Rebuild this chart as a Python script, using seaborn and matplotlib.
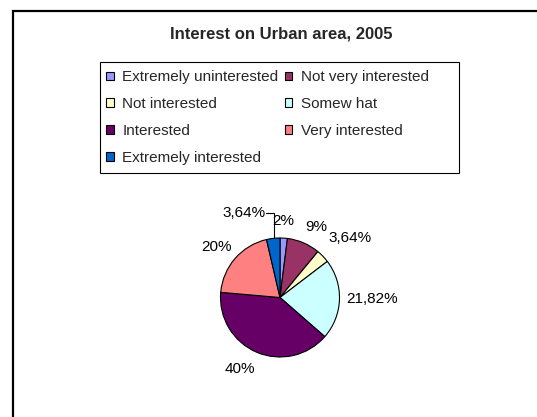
import numpy as np
import matplotlib
matplotlib.use("Agg")
import matplotlib.pyplot as plt
from matplotlib.patches import Patch, Rectangle
import seaborn as sns

# Survey shares (%), clockwise from twelve o'clock
categories = ["Extremely uninterested", "Not very interested", "Not interested",
              "Somew hat", "Interested", "Very interested", "Extremely interested"]
shares = [2, 9, 3.64, 21.82, 40, 20, 3.64]
colors = ["#9999FF", "#993366", "#FFFFCC", "#CCFFFF", "#660066", "#FF8080", "#0066CC"]
title = "Interest on Urban area, 2005"

# label anchor points, in units of the pie radius
label_xy = [(0.06, 1.28), (0.61, 1.18), (1.18, 1.00), (1.55, -0.03),
            (-0.67, -1.20), (-1.06, 0.85), (-0.61, 1.42)]

W, H = 537, 417
sns.set_theme(style="white")
plt.rcParams["font.family"] = ["Liberation Sans", "DejaVu Sans"]
palette = sns.color_palette(colors)

fig = plt.figure(figsize=(W / 100, H / 100), dpi=100)
fig.patch.set_facecolor("white")

def fx(px):
    return px / W

def fy(py):
    return 1 - py / H

# outer chart-area border (continues past the right and bottom edges)
fig.add_artist(Rectangle((fx(13), fy(430)), fx(540), (430 - 11) / H,
                         transform=fig.transFigure, fill=False,
                         ec="black", lw=1.6))

fig.text(fx(281), fy(34), title, ha="center", va="center",
         fontsize=12, fontweight="bold")

# pie axes: centre (280, 297.5) px, radius 59.5 px, limits +-1.5
R = 59.5
half = 1.5 * R
ax = fig.add_axes([fx(280 - half), (H - 297.5 - half) / H, 2 * half / W, 2 * half / H])
wedges, _ = ax.pie(shares, colors=palette, startangle=90, counterclock=False,
                   radius=1.0,
                   wedgeprops=dict(edgecolor="black", linewidth=0.8))
ax.set_xlim(-1.5, 1.5)
ax.set_ylim(-1.5, 1.5)
ax.set_aspect("equal")
ax.axis("off")

labels = [(f"{v:g}".replace(".", ",") + "%") for v in shares]
for lab, (x, y) in zip(labels, label_xy):
    ax.text(x, y, lab, ha="center", va="center", fontsize=11, color="black")

# leader line for the small last slice
w = wedges[-1]
ang = np.deg2rad(w.theta1 + 0.42 * (w.theta2 - w.theta1))
ex, ey = np.cos(ang), np.sin(ang)
lx, ly = label_xy[-1]
ax.plot([lx + 0.37, ex, ex], [ly, ly, ey], color="black", lw=0.8,
        solid_joinstyle="miter", clip_on=False)

# legend, filled row by row in two columns
handles = [Patch(facecolor=c, edgecolor="black", linewidth=0.8) for c in palette]
order = [0, 2, 4, 6, 1, 3, 5]
leg = fig.legend([handles[i] for i in order], [categories[i] for i in order],
                 ncol=2, loc="upper left", bbox_to_anchor=(fx(98), fy(62)),
                 bbox_transform=fig.transFigure, borderaxespad=0,
                 frameon=False, fontsize=11, handlelength=0.5,
                 handleheight=0.5, handletextpad=0.55, columnspacing=0.4,
                 labelspacing=0.84, borderpad=0.55)
fig.add_artist(Rectangle((fx(100), fy(173)), (459 - 100) / W, (173 - 62) / H,
                         transform=fig.transFigure, fill=False,
                         ec="black", lw=0.8))

fig.savefig("out.png", dpi=100, facecolor="white")
